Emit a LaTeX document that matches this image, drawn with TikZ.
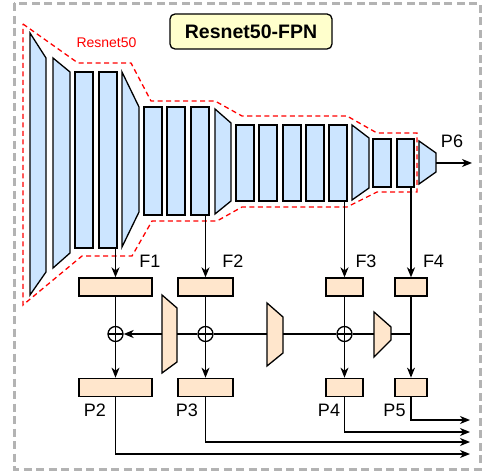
\documentclass[tikz,border=0pt]{standalone}
\usepackage{fontspec}
\setmainfont{Liberation Sans}
\usetikzlibrary{arrows.meta,positioning,calc}
\definecolor{bbcol}{RGB}{204,229,255}
\definecolor{fpncol}{RGB}{255,230,204}
\definecolor{titlecol}{RGB}{255,255,204}
\definecolor{framecol}{RGB}{179,179,179}
\tikzset{
  % backbone block
  bblock/.style={rectangle, draw, fill=bbcol, line width=1.3pt, minimum width=18pt, inner sep=0pt},
  % backbone reduction stage
  bbtrap/.style={draw, fill=bbcol, line width=1.3pt},
  % lateral / output box
  fbox/.style={rectangle, draw, fill=fpncol, line width=1.3pt, minimum height=18pt, inner sep=0pt},
  % upsampling stage
  uptrap/.style={draw, fill=fpncol, line width=1.3pt},
  % element-wise sum
  addnode/.style={circle, draw, line width=1.3pt, minimum size=15pt, inner sep=0pt,
    path picture={\draw[line width=1.3pt] (path picture bounding box.north) -- (path picture bounding box.south)
      (path picture bounding box.west) -- (path picture bounding box.east);}},
  % plain connector
  conn/.style={line width=1.3pt},
  % connector with tip
  arr/.style={line width=1.3pt, -{Stealth[length=10pt,width=8pt,inset=3pt]}},
  % feature label
  flabel/.style={font=\fontsize{18}{20}\selectfont, inner sep=0pt},
}

\begin{document}
\begin{tikzpicture}[x=1pt, y=-1pt]
  \useasboundingbox (0,0) rectangle (482,473);
  % outer frame and title
  \draw[framecol, line width=3pt, dash pattern=on 8pt off 4.5pt] (14,3.5) rectangle (480,469);
  \node[draw, rounded corners=5pt, fill=titlecol, line width=1.3pt, minimum width=162pt, minimum height=35pt,
        font=\bfseries\fontsize{19.5}{22}\selectfont] (title) at (251,31.5) {Resnet50-FPN};

  % backbone outline
  \draw[red, line width=1.3pt, dash pattern=on 5pt off 3.5pt]
    (23,24) -- (78,63) -- (131,63) -- (151,101) -- (215,101) -- (242,116) -- (347,116)
    -- (377,133) -- (417,133) -- (417,192) -- (377,192) -- (347,207) -- (242,207)
    -- (217,221) -- (152,221) -- (132,256) -- (82,256) -- (23,305) -- cycle;
  \node[red, font=\fontsize{14}{16}\selectfont, inner sep=0pt] (bbname) at (106.5,43) {Resnet50};

  % stage 1
  \draw[bbtrap] (30,33) -- (46,58) -- (46,272) -- (30,295) -- cycle;
  \draw[bbtrap] (53,58) -- (70,72) -- (70,253) -- (53,268) -- cycle;
  \node[bblock, minimum height=176pt] (r3) at (84,160) {};
  \node[bblock, minimum height=176pt] (r4) at (108,160) {};
  % stage 2
  \draw[bbtrap] (122,72) -- (139,107) -- (139,212) -- (122,247) -- cycle;
  \node[bblock, minimum height=108pt] (r6) at (153,161) {};
  \node[bblock, minimum height=108pt] (r7) at (176,161) {};
  \node[bblock, minimum height=108pt] (r8) at (200,161) {};
  % stage 3
  \draw[bbtrap] (215,109) -- (231,123) -- (231,201) -- (215,214) -- cycle;
  \node[bblock, minimum height=76pt] (r10) at (245,163) {};
  \node[bblock, minimum height=76pt] (r11) at (268,163) {};
  \node[bblock, minimum height=76pt] (r12) at (292,163) {};
  \node[bblock, minimum height=76pt] (r13) at (315,163) {};
  \node[bblock, minimum height=76pt] (r14) at (338,163) {};
  % stage 4
  \draw[bbtrap] (352,125) -- (369,138) -- (369,188) -- (352,200) -- cycle;
  \node[bblock, minimum height=48pt] (r16) at (382,163) {};
  \node[bblock, minimum height=48pt, minimum width=17pt] (r17) at (405.5,163) {};
  % extra level
  \draw[bbtrap] (419,141) -- (436,153) -- (436,172) -- (419,184) -- cycle;
  \coordinate (t18) at (436,163);
  \coordinate (p6end) at (472,163);
  \draw[arr] (t18) -- (p6end);
  \node[flabel] (lp6) at (452,141) {P6};

  % lateral boxes
  \node[fbox, minimum width=73pt] (f1) at (115.5,287) {};
  \node[fbox, minimum width=55pt] (f2) at (205.5,287) {};
  \node[fbox, minimum width=37pt] (f3) at (344.5,287) {};
  \node[fbox, minimum width=32pt] (f4) at (411,287) {};
  \draw[arr] (f1.north |- r4.south) -- (f1.north);
  \draw[arr] (f2.north |- r8.south) -- (f2.north);
  \draw[arr] (f3.north |- r14.south) -- (f3.north);
  \draw[arr] (f4.north |- r17.south) -- (f4.north);
  \node[flabel] (lf1) at (150,261) {F1};
  \node[flabel] (lf2) at (233,261) {F2};
  \node[flabel] (lf3) at (366,261) {F3};
  \node[flabel] (lf4) at (433.5,261) {F4};

  % output boxes
  \node[fbox, minimum width=73pt, below=81pt of f1] (p2) {};
  \node[fbox, minimum width=55pt, below=81pt of f2] (p3) {};
  \node[fbox, minimum width=37pt, below=81pt of f3] (p4) {};
  \node[fbox, minimum width=32pt, below=81pt of f4] (p5) {};
  \node[flabel] (lp2) at (95,410) {P2};
  \node[flabel] (lp3) at (187,410) {P3};
  \node[flabel] (lp4) at (329,410) {P4};
  \node[flabel] (lp5) at (394.5,410) {P5};

  % top-down path
  \node[addnode] (s1) at (f1 |- 0,334) {};
  \node[addnode] (s2) at (f2 |- 0,334) {};
  \node[addnode] (s3) at (f3 |- 0,334) {};
  \draw[uptrap] (162,295) -- (177,308) -- (177,362) -- (162,373) -- cycle;
  \draw[uptrap] (267,303) -- (283,317) -- (283,353) -- (267,366) -- cycle;
  \draw[uptrap] (374,312) -- (391,327) -- (391,340) -- (374,357) -- cycle;
  \coordinate (u1w) at (162,334);
  \coordinate (u1e) at (177,334);
  \coordinate (u2w) at (267,334);
  \coordinate (u2e) at (283,334);
  \coordinate (u3w) at (374,334);
  \coordinate (u3e) at (391,334);
  \draw[conn] (f4 |- u3e) -- (u3e);
  \draw[conn] (u3w) -- (s3);
  \draw[conn] (s3) -- (u2e);
  \draw[conn] (u2w) -- (s2);
  \draw[conn] (s2) -- (u1e);
  \draw[arr] (u1w) -- (s1);
  \draw[conn] (f1) -- (s1);
  \draw[conn] (f2) -- (s2);
  \draw[conn] (f3) -- (s3);
  \draw[arr] (s1) -- (p2);
  \draw[arr] (s2) -- (p3);
  \draw[arr] (s3) -- (p4);
  \draw[arr] (f4) -- (p5);

  % outputs
  \coordinate (o2) at (470,454);
  \coordinate (o3) at (470,442);
  \coordinate (o4) at (470,432);
  \coordinate (o5) at (470,420);
  \draw[arr] (p2.south) |- (o2);
  \draw[arr] (p3.south) |- (o3);
  \draw[arr] (p4.south) |- (o4);
  \draw[arr] (p5.south) |- (o5);
\end{tikzpicture}
\end{document}
